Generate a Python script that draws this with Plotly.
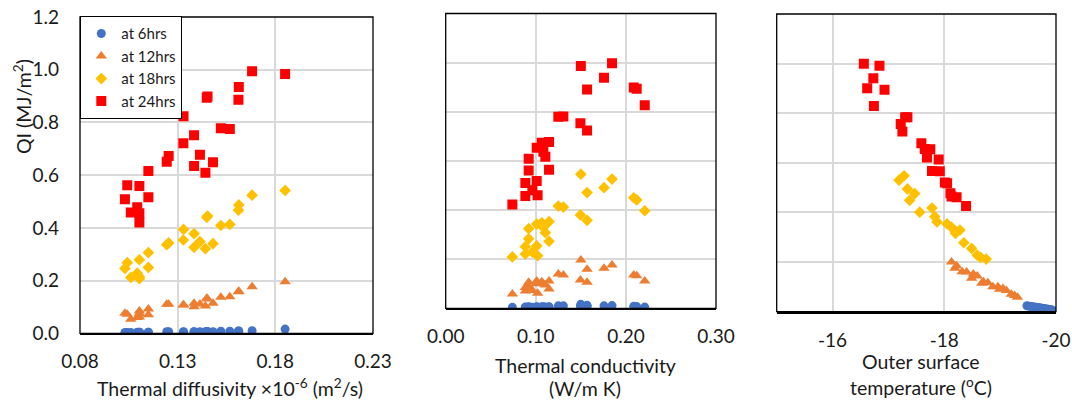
import plotly.graph_objects as go

# ---------------- data ----------------
series_names = ["at 6hrs", "at 12hrs", "at 18hrs", "at 24hrs"]

# Panel 1: thermal diffusivity x10^-6 (m2/s)
diff_x = [0.1030, 0.1042, 0.1060, 0.1093, 0.1104, 0.1104, 0.1104, 0.1150, 0.1150,
          0.1244, 0.1254, 0.1329, 0.1330, 0.1384, 0.1384, 0.1414, 0.1442, 0.1449,
          0.1453, 0.1481, 0.1521, 0.1567, 0.1611, 0.1613, 0.1681, 0.1850]
diff_6 = [0.003, 0.003, 0.003, 0.004, 0.004, 0.003, 0.004, 0.004, 0.004,
          0.006, 0.006, 0.005, 0.006, 0.006, 0.006, 0.006, 0.006, 0.007,
          0.007, 0.006, 0.008, 0.008, 0.009, 0.009, 0.010, 0.016]
diff_12 = [0.076, 0.072, 0.053, 0.060, 0.085, 0.062, 0.075, 0.092, 0.070,
           0.110, 0.110, 0.107, 0.108, 0.114, 0.101, 0.111, 0.104, 0.133,
           0.130, 0.114, 0.137, 0.139, 0.158, 0.160, 0.177, 0.196]
diff_18 = [0.246, 0.268, 0.212, 0.228, 0.279, 0.207, 0.215, 0.306, 0.250,
           0.336, 0.343, 0.354, 0.394, 0.378, 0.326, 0.348, 0.321, 0.440,
           0.445, 0.340, 0.409, 0.413, 0.467, 0.487, 0.524, 0.542]
diff_24 = [0.509, 0.562, 0.458, 0.478, 0.559, 0.455, 0.420, 0.616, 0.516,
           0.651, 0.673, 0.721, 0.823, 0.751, 0.635, 0.677, 0.609, 0.894,
           0.898, 0.649, 0.778, 0.775, 0.886, 0.934, 0.994, 0.984]

# Panel 2: thermal conductivity (W/m K)
cond_x = [0.074, 0.0884, 0.0884, 0.0921, 0.0921, 0.0962, 0.101, 0.102, 0.101,
          0.1066, 0.1084, 0.1106, 0.1147, 0.1147, 0.125, 0.1306, 0.1495, 0.150,
          0.1569, 0.1569, 0.1757, 0.1846, 0.2087, 0.212, 0.2209]
cond_6 = [0.004, 0.004, 0.005, 0.005, 0.006, 0.004, 0.005, 0.003, 0.006,
          0.006, 0.006, 0.005, 0.006, 0.005, 0.010, 0.010, 0.010, 0.016,
          0.012, 0.008, 0.010, 0.011, 0.008, 0.007, 0.005]
cond_12 = [0.058, 0.070, 0.085, 0.106, 0.090, 0.072, 0.111, 0.061, 0.100,
           0.108, 0.100, 0.095, 0.111, 0.079, 0.140, 0.136, 0.115, 0.197,
           0.159, 0.106, 0.163, 0.176, 0.136, 0.133, 0.111]
cond_18 = [0.209, 0.221, 0.251, 0.283, 0.324, 0.229, 0.254, 0.214, 0.343,
           0.348, 0.329, 0.308, 0.353, 0.273, 0.416, 0.412, 0.380, 0.546,
           0.471, 0.358, 0.491, 0.526, 0.450, 0.441, 0.397]
cond_24 = [0.423, 0.457, 0.510, 0.561, 0.609, 0.481, 0.518, 0.460, 0.654,
           0.674, 0.637, 0.617, 0.677, 0.564, 0.780, 0.781, 0.753, 0.986,
           0.891, 0.724, 0.938, 0.997, 0.899, 0.894, 0.827]

# Panel 3: outer surface temperature (oC)
temp6_x = [-19.48, -19.52, -19.55, -19.58, -19.61, -19.64, -19.67, -19.70, -19.72,
           -19.75, -19.78, -19.80, -19.83, -19.86, -19.88, -19.91, -19.93]
temp6_y = [0.024, 0.022, 0.021, 0.020, 0.019, 0.018, 0.017, 0.016, 0.015,
           0.014, 0.013, 0.012, 0.011, 0.010, 0.009, 0.008, 0.007]
temp12_x = [-18.13, -18.19, -18.22, -18.32, -18.40, -18.49, -18.52, -18.59, -18.67,
            -18.70, -18.78, -18.87, -18.96, -18.99, -19.05, -19.11, -19.20, -19.26, -19.31]
temp12_y = [0.200, 0.175, 0.185, 0.161, 0.160, 0.135, 0.152, 0.144, 0.115,
            0.121, 0.117, 0.101, 0.101, 0.090, 0.094, 0.085, 0.070, 0.065, 0.058]
temp18_x = [-17.19, -17.28, -17.34, -17.47, -17.38, -17.56, -17.78, -17.83, -17.87,
            -18.05, -18.13, -18.20, -18.28, -18.35, -18.49, -18.59, -18.65, -18.75]
temp18_y = [0.530, 0.548, 0.495, 0.476, 0.449, 0.401, 0.418, 0.383, 0.362,
            0.354, 0.340, 0.316, 0.329, 0.278, 0.255, 0.228, 0.219, 0.212]
temp24_x = [-16.56, -16.84, -16.73, -16.62, -16.93, -16.74, -17.30, -17.34, -17.22,
            -17.25, -17.59, -17.65, -17.75, -17.69, -17.90, -17.78, -17.92, -18.01,
            -18.05, -18.11, -18.13, -18.22, -18.39]
temp24_y = [0.999, 0.991, 0.941, 0.901, 0.895, 0.829, 0.784, 0.784, 0.757,
            0.726, 0.679, 0.656, 0.655, 0.622, 0.613, 0.567, 0.566, 0.521,
            0.518, 0.477, 0.464, 0.461, 0.426]

y_ticks = [0.0, 0.2, 0.4, 0.6, 0.8, 1.0, 1.2]
y_labels = ["0.0", "0.2", "0.4", "0.6", "0.8", "1.0", "1.2"]
diff_ticks = [0.08, 0.13, 0.18, 0.23]
diff_labels = ["0.08", "0.13", "0.18", "0.23"]
cond_ticks = [0.0, 0.1, 0.2, 0.3]
cond_labels = ["0.00", "0.10", "0.20", "0.30"]
temp_ticks = [-16, -18, -20]
temp_labels = ["-16", "-18", "-20"]

# ---------------- style ----------------
colors = ["#4472C4", "#ED7D31", "#FFC000", "#FF0000"]
symbols = ["circle", "triangle-up", "diamond", "square"]
sizes = [9, 10, 9, 10]
FONT = "Lato"
TXT = "#1a1a1a"
GRID = "#D9D9D9"

fig = go.Figure()

panels = [
    ("x", "y", [(diff_x, diff_6), (diff_x, diff_12), (diff_x, diff_18), (diff_x, diff_24)], True),
    ("x2", "y2", [(cond_x, cond_6), (cond_x, cond_12), (cond_x, cond_18), (cond_x, cond_24)], False),
    ("x3", "y3", [(temp6_x, temp6_y), (temp12_x, temp12_y), (temp18_x, temp18_y), (temp24_x, temp24_y)], False),
]
for xa, ya, data, show in panels:
    for i, (xs, ys) in enumerate(data):
        fig.add_trace(go.Scatter(
            x=xs, y=ys, mode="markers", xaxis=xa, yaxis=ya,
            name=series_names[i], showlegend=show,
            marker=dict(color=colors[i], symbol=symbols[i], size=sizes[i], line=dict(width=0)),
        ))

W, H = 1072, 400
def dom_x(a, b):
    return [a / W, b / W]
def dom_y(top, bottom):
    return [1 - bottom / H, 1 - top / H]

tickfont = dict(family=FONT, size=19, color=TXT)
common_x = dict(showgrid=True, gridcolor=GRID, gridwidth=1.5, zeroline=False,
                showline=True, linecolor="black", linewidth=2, tickfont=tickfont,
                ticks="", ticklabelstandoff=10, automargin=False)
common_y = dict(showgrid=True, gridcolor=GRID, gridwidth=1.5, zeroline=False,
                showline=False, range=[0, 1.2], tickvals=y_ticks, ticktext=y_labels,
                tickfont=tickfont, ticks="", automargin=False)

fig.update_layout(
    width=W, height=H, margin=dict(l=0, r=0, t=0, b=0, autoexpand=False),
    paper_bgcolor="white", plot_bgcolor="white",
    font=dict(family=FONT, size=19, color=TXT),
    xaxis=dict(common_x, domain=dom_x(80, 373), range=[0.08, 0.23], tickvals=diff_ticks,
               ticktext=diff_labels, anchor="y"),
    yaxis=dict(common_y, domain=dom_y(17, 333.3), anchor="x", ticklabelstandoff=20),
    xaxis2=dict(common_x, domain=dom_x(445.7, 716), range=[0, 0.3], tickvals=cond_ticks,
                ticktext=cond_labels, anchor="y2"),
    yaxis2=dict(common_y, domain=dom_y(13.5, 308.3), anchor="x2", showticklabels=False),
    xaxis3=dict(common_x, domain=dom_x(776.7, 1056), range=[-15, -20], tickvals=temp_ticks,
                ticktext=temp_labels, anchor="y3"),
    yaxis3=dict(common_y, domain=dom_y(14, 311.7), anchor="x3", showticklabels=False),
    legend=dict(x=80 / W, y=1 - 16 / H, xanchor="left", yanchor="top",
                bgcolor="white", bordercolor="black", borderwidth=1.3,
                font=dict(family=FONT, size=15, color=TXT),
                tracegroupgap=0, itemwidth=30),
    showlegend=True,
)

# plot-area borders
for xa, ya in [("x", "y"), ("x2", "y2"), ("x3", "y3")]:
    fig.add_shape(type="rect", xref=f"{xa} domain", yref=f"{ya} domain",
                  x0=0, x1=1, y0=0, y1=1, line=dict(color="black", width=1.3),
                  fillcolor="rgba(0,0,0,0)", layer="above")

# axis titles as annotations
def ann(text, xpx, ypx, angle=0):
    fig.add_annotation(text=text, x=xpx / W, y=1 - ypx / H, xref="paper", yref="paper",
                       showarrow=False, textangle=angle,
                       font=dict(family=FONT, size=19.5, color=TXT),
                       xanchor="center", yanchor="middle")

ann("Thermal diffusivity ×10<sup>-6</sup> (m<sup>2</sup>/s)", 230, 387)
ann("QI (MJ/m<sup>2</sup>)", 22, 107, -90)
ann("Thermal conductivity", 585, 365)
ann("(W/m K)", 585, 388)
ann("Outer surface", 921, 361)
ann("temperature (<sup>o</sup>C)", 921, 386)

fig.write_html(
    "out.html",
    config={"displayModeBar": False},
    post_script="document.body.style.margin='0';document.body.style.overflow='hidden';",
)
